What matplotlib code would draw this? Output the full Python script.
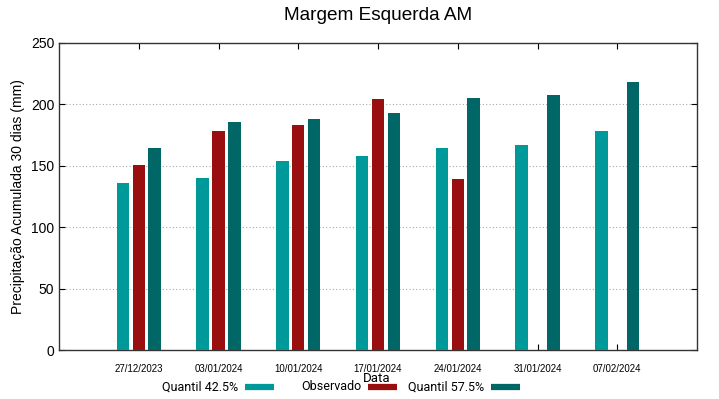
import matplotlib
matplotlib.use("Agg")
import matplotlib.pyplot as plt
import numpy as np
from matplotlib.lines import Line2D

plt.rcParams['font.family'] = ['Liberation Sans', 'DejaVu Sans']
NARROW = ['Roboto', 'Liberation Sans', 'DejaVu Sans']

dates = ["27/12/2023", "03/01/2024", "10/01/2024", "17/01/2024",
         "24/01/2024", "31/01/2024", "07/02/2024"]
q425 = [136, 140, 154, 158, 164.5, 167, 178.5]
observado = [150.5, 178, 183, 204.5, 139, np.nan, np.nan]
q575 = [164.5, 185.5, 188, 193, 205, 207.5, 218]
labels = ["Quantil 42.5%", "Observado", "Quantil 57.5%"]

c1 = "#009999"
c2 = "#990f0f"
c3 = "#006666"

W, H = 719, 399
fig = plt.figure(figsize=(W/100, H/100), dpi=100)
ax = fig.add_axes([59/W, 49/H, 638/W, 307/H])

x = np.arange(len(dates))
w = 0.156
off = 0.2
ax.bar(x - off, q425, w, color=c1, zorder=3)
ax.bar(x, observado, w, color=c2, zorder=3)
ax.bar(x + off, q575, w, color=c3, zorder=3)

ax.set_xlim(-1, 7)
ax.set_ylim(0, 250)
ax.set_yticks([0, 50, 100, 150, 200, 250])
ax.set_xticks(x)
ax.set_xticklabels(dates, fontsize=7.0)
ax.tick_params(axis='y', labelsize=10, direction='in', right=True, length=4)
ax.tick_params(axis='x', direction='in', top=True, length=4, pad=10)
for yv in [50, 100, 150, 200]:
    ax.axhline(yv, color="#aaaaaa", linestyle=(0, (1, 2)), linewidth=0.8, zorder=1)
for s in ax.spines.values():
    s.set_color("#333333")
    s.set_linewidth(1.0)

ax.set_ylabel("Precipitação Acumulada 30 dias (mm)", fontsize=10)
fig.text(377/W, 1 - 378/H, "Data", fontsize=9.5, family=NARROW,
         ha="center", va="center")
fig.text(378/W, 1 - 16/H, "Margem Esquerda AM", fontsize=13.7,
         ha="center", va="center")

# legend: text right-aligned, patch to the right, equal columns
text_right = [238, 361, 484]
ly = 1 - 387/H
for tr, lab, c in zip(text_right, labels, [c1, c2, c3]):
    fig.text(tr/W, ly, lab, fontsize=9, family=NARROW, ha="right", va="center")
    fig.add_artist(Line2D([(tr + 7)/W, (tr + 36)/W], [ly, ly], color=c,
                          linewidth=4.5, solid_capstyle="butt",
                          transform=fig.transFigure))

fig.savefig("out.png", dpi=100)
